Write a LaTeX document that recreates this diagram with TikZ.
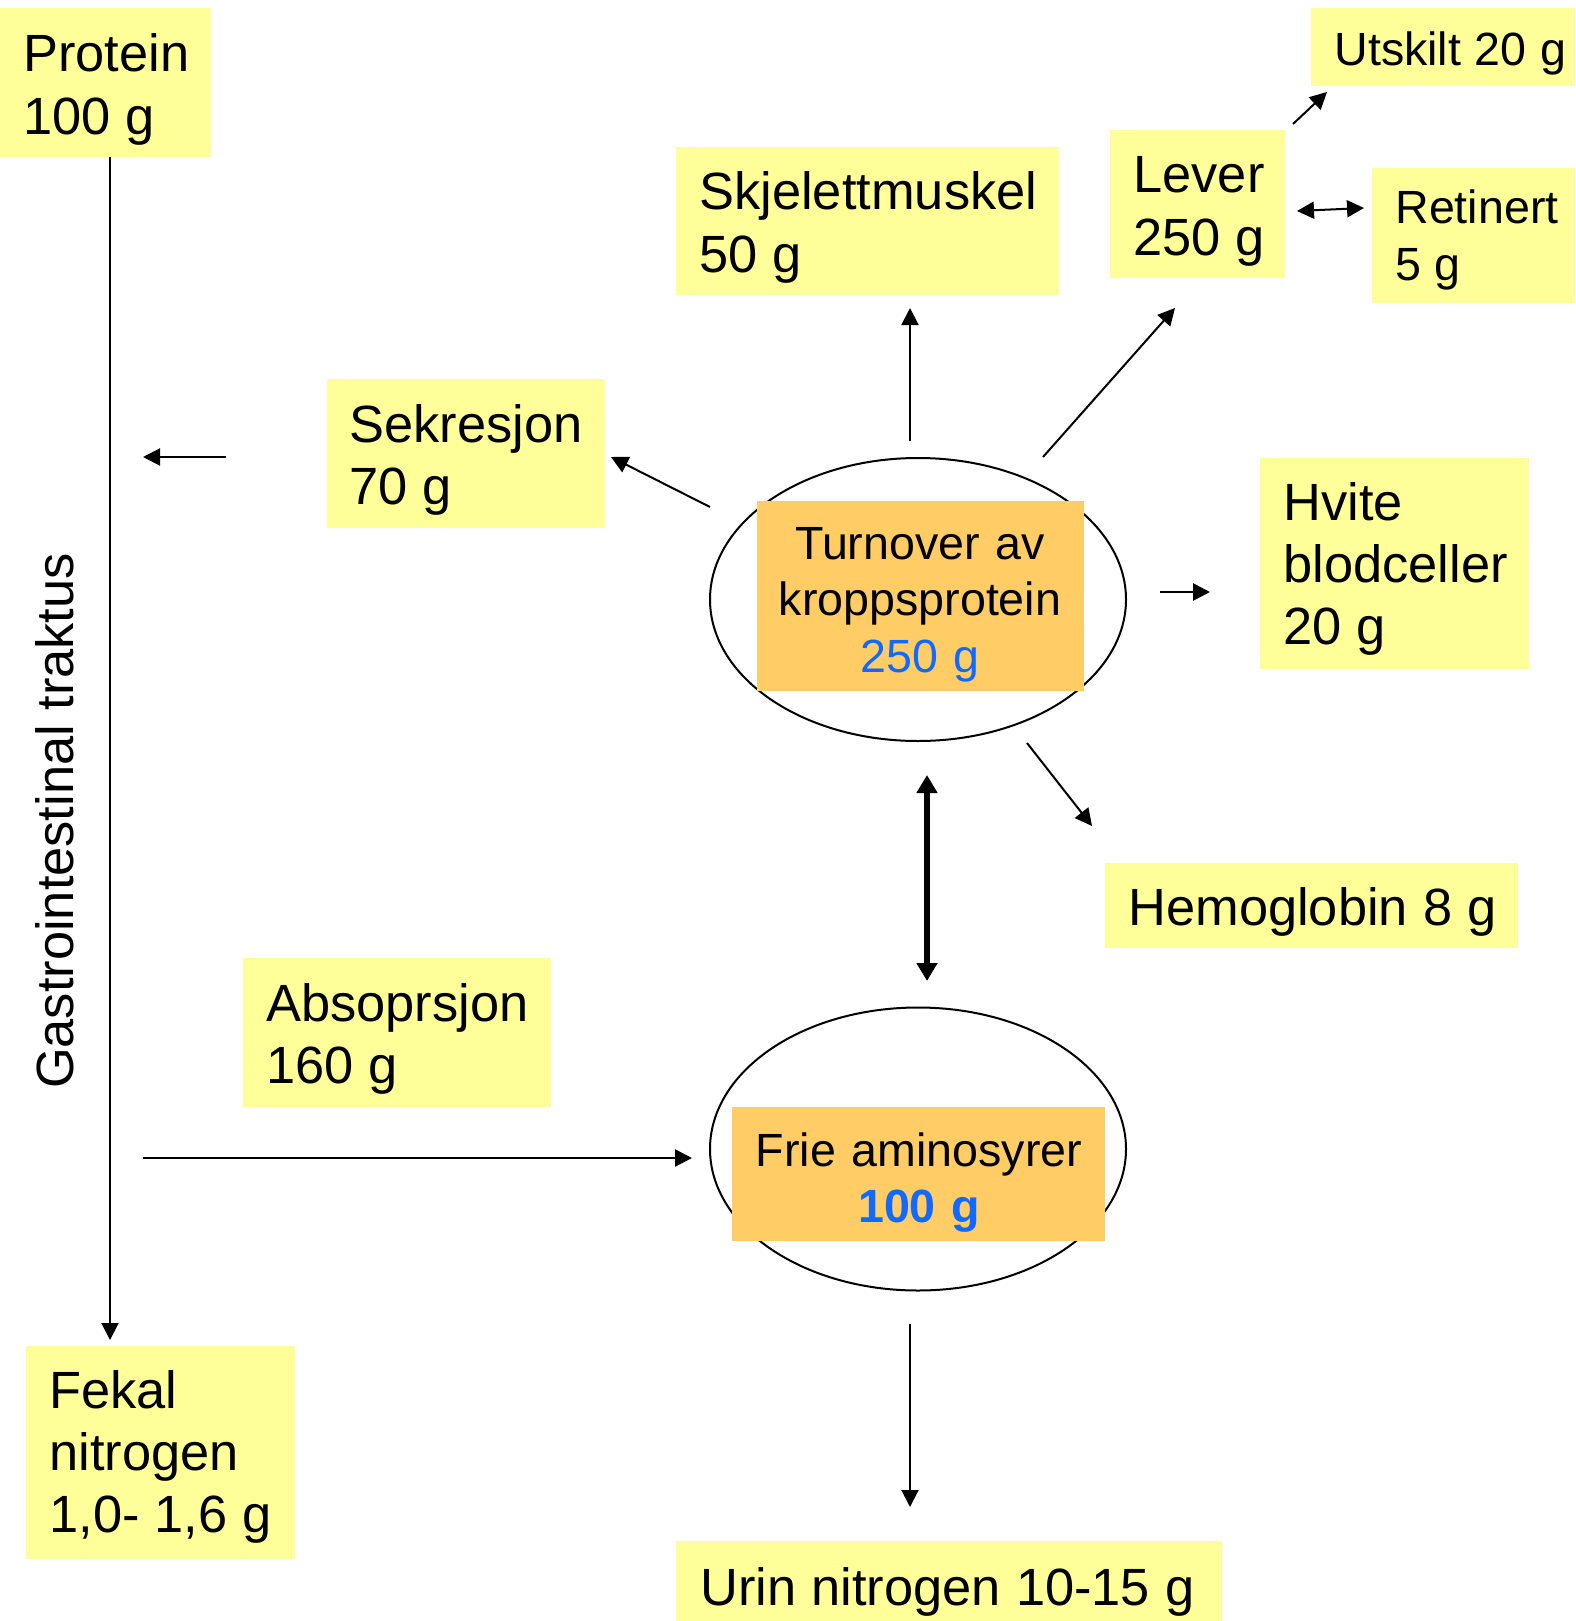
\documentclass[tikz,border=0pt]{standalone}
\usepackage{fontspec}
\setmainfont{Liberation Sans}
\usetikzlibrary{arrows.meta,shapes.geometric,fit}

\definecolor{notefill}{RGB}{255,255,153}
\definecolor{poolfill}{RGB}{255,204,102}
\definecolor{amount}{RGB}{16,106,255}

% slightly narrower word spaces for the labels
\newcommand\narrowspaces{\spaceskip=0.29em\relax}

\tikzset{
  x=0.5pt, y=-0.5pt,
  note/.style={fill=notefill, draw=none, inner sep=0pt},
  pool/.style={fill=poolfill, draw=none, inner sep=0pt},
  rim/.style={draw=black, line width=1pt, ellipse, inner sep=0pt,
              minimum width=208pt, minimum height=141.5pt},
  bigtxt/.style={font=\fontsize{26.2}{31.2}\selectfont, inner sep=0pt,
                 execute at begin node=\narrowspaces,
                 text width=300pt, align=left, anchor=base west},
  smalltxt/.style={font=\fontsize{23.3}{28.4}\selectfont, inner sep=0pt,
                 execute at begin node=\narrowspaces,
                 text width=300pt, align=left, anchor=base west},
  pooltxt/.style={font=\fontsize{23.3}{28.4}\selectfont, inner sep=0pt,
                 text width=190pt, align=center, anchor=base},
  flow/.style={line width=1pt, -{Triangle[length=8.5pt,width=8.5pt]}},
  flowtwo/.style={line width=1pt, {Triangle[length=8.5pt,width=8.5pt]}-{Triangle[length=8.5pt,width=8.5pt]}},
  exchange/.style={line width=3.2pt, {Triangle[length=9pt,width=10pt]}-{Triangle[length=9pt,width=10pt]}}
}

\begin{document}
\begin{tikzpicture}
\useasboundingbox (0,0) rectangle (1575,1621);

% ---- yellow note boxes ----
\node[note, fit={(0,8)(211,157)}] (protein) {};
\node[bigtxt] (protein-t) at (23,72) {Protein\\100 g};

\node[note, fit={(676,147)(1059,295)}] (skel) {};
\node[bigtxt] (skel-t) at (699,210) {Skjelettmuskel\\50 g};

\node[note, fit={(1110,130)(1285,278)}] (lever) {};
\node[bigtxt] (lever-t) at (1133,193) {Lever\\250 g};

\node[note, fit={(1311,8)(1575,86)}] (utskilt) {};
\node[smalltxt] (utskilt-t) at (1334,66) {Utskilt 20 g};

\node[note, fit={(1372,168)(1575,303)}] (retinert) {};
\node[smalltxt] (retinert-t) at (1395,224) {Retinert\\5 g};

\node[note, fit={(327,379)(605,528)}] (sekresjon) {};
\node[bigtxt] (sekresjon-t) at (349,442) {Sekresjon\\70 g};

\node[note, fit={(1260,458)(1529,669)}] (hvite) {};
\node[bigtxt] (hvite-t) at (1283,520) {Hvite\\blodceller\\20 g};

\node[note, fit={(1105,863)(1518,948)}] (hemo) {};
\node[bigtxt] (hemo-t) at (1128,925) {Hemoglobin 8 g};

\node[note, fit={(243,958)(551,1107)}] (absorp) {};
\node[bigtxt] (absorp-t) at (266,1021) {Absoprsjon\\160 g};

\node[note, fit={(26,1346)(295,1559)}] (fekal) {};
\node[bigtxt] (fekal-t) at (49,1408) {Fekal\\nitrogen\\1,0- 1,6 g};

\node[note, fit={(676,1541)(1222,1621)}] (urin) {};
\node[bigtxt] (urin-t) at (700,1605) {Urin nitrogen 10-15 g};

% ---- the two protein pools ----
\node[rim] (turn) at (918,599.5) {};
\node[pool, fit={(757,501)(1084,691)}] (turn-box) {};
\node[pooltxt] (turn-t) at (920,559)
  {Turnover av\\kroppsprotein\\\textcolor{amount}{250 g}};

\node[rim] (frie) at (918,1149) {};
\node[pool, fit={(732,1107)(1105,1241)}] (frie-box) {};
\node[pooltxt] (frie-t) at (919,1166)
  {Frie aminosyrer\\\textcolor{amount}{\bfseries 100 g}};

% ---- gut label ----
\node[font=\fontsize{26.2}{31.2}\selectfont, inner sep=0pt, rotate=90, anchor=base]
  (gi) at (73,821) {Gastrointestinal traktus};

% ---- connector end points ----
\coordinate (gi-top)    at (110,157);
\coordinate (gi-bottom) at (110,1340);
\coordinate (sek-a)  at (226,457);  \coordinate (sek-b)  at (143,457);
\coordinate (abs-a)  at (143,1158); \coordinate (abs-b)  at (692,1158);
\coordinate (t-sek)  at (710,507);  \coordinate (sek-in) at (611,457);
\coordinate (t-skel) at (910,441);  \coordinate (skel-in) at (910,308);
\coordinate (t-lev)  at (1043,457); \coordinate (lev-in) at (1175,308);
\coordinate (lev-ut) at (1293,124); \coordinate (ut-in)  at (1327,92);
\coordinate (lev-re) at (1297,211); \coordinate (re-in)  at (1364,208);
\coordinate (t-hv)   at (1160,592); \coordinate (hv-in)  at (1210,592);
\coordinate (t-hem)  at (1027,743); \coordinate (hem-in) at (1092,826);
\coordinate (t-ex)   at (927,775);  \coordinate (f-ex)   at (927,981);
\coordinate (f-ur)   at (910,1324); \coordinate (ur-in)  at (910,1507);

% ---- flows ----
\draw[flow] (gi-top) -- (gi-bottom);
\draw[flow] (sek-a) -- (sek-b);
\draw[flow, line width=1.2pt] (abs-a) -- (abs-b);
\draw[flow] (t-sek) -- (sek-in);
\draw[flow] (t-skel) -- (skel-in);
\draw[flow] (t-lev) -- (lev-in);
\draw[flow] (lev-ut) -- (ut-in);
\draw[flowtwo] (lev-re) -- (re-in);
\draw[flow, line width=1.4pt] (t-hv) -- (hv-in);
\draw[flow] (t-hem) -- (hem-in);
\draw[exchange] (t-ex) -- (f-ex);
\draw[flow] (f-ur) -- (ur-in);
\end{tikzpicture}
\end{document}
